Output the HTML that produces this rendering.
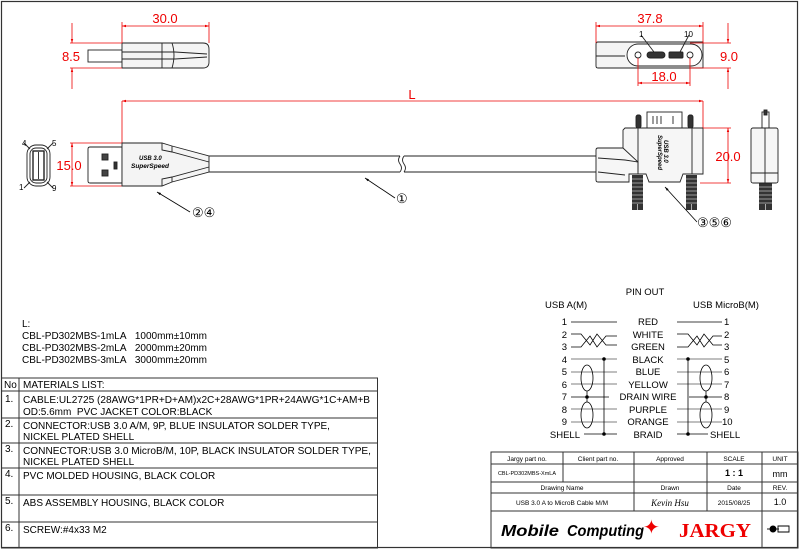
<!DOCTYPE html>
<html><head><meta charset="utf-8"><style>
html,body{margin:0;padding:0;background:#fff;}
svg{display:block;font-family:"Liberation Sans",sans-serif;}
</style></head><body>
<svg width="800" height="550" viewBox="0 0 800 550" xmlns="http://www.w3.org/2000/svg">
<defs>
<marker id="ar" viewBox="0 0 10 10" refX="10" refY="5" markerWidth="7" markerHeight="5" orient="auto-start-reverse"><path d="M0,2 L10,5 L0,8 z" fill="#e00"/></marker>
<marker id="ak" viewBox="0 0 10 10" refX="10" refY="5" markerWidth="8" markerHeight="5" orient="auto"><path d="M0,2 L10,5 L0,8 z" fill="#000"/></marker>
</defs>
<rect x="1.5" y="1.5" width="796" height="546" fill="none" stroke="#333" stroke-width="1.2"/>

<g stroke="#222" fill="none" stroke-width="0.9">
<rect x="88" y="50" width="34" height="12"/>
<path d="M122,43 H203 Q209,43 209,49 V62 Q209,68 203,68 H122 Z" fill="#f4f4f4"/>
<line x1="122" y1="52" x2="175" y2="52"/><line x1="122" y1="59" x2="175" y2="59"/>
<line x1="162" y1="43" x2="162" y2="68"/>
<path d="M172,43 Q176,55 172,68"/>
<path d="M175,52 L207,54 M175,59 L207,57"/>
</g>
<g stroke="#e00" stroke-width="0.8" fill="none">
<line x1="122" y1="26" x2="209" y2="26" marker-start="url(#ar)" marker-end="url(#ar)"/>
<line x1="122" y1="22" x2="122" y2="43"/><line x1="209" y1="22" x2="209" y2="43"/>
<line x1="70" y1="43" x2="122" y2="43"/><line x1="70" y1="68" x2="122" y2="68"/>
<line x1="72" y1="23" x2="72" y2="43" marker-end="url(#ar)"/>
<line x1="72" y1="89" x2="72" y2="68" marker-end="url(#ar)"/>
</g>
<text x="165" y="23" font-size="13" fill="#e00" text-anchor="middle">30.0</text>
<text x="71" y="61" font-size="13" fill="#e00" text-anchor="middle">8.5</text>

<g stroke="#e00" stroke-width="0.8" fill="none">
<line x1="122" y1="101" x2="703" y2="101" marker-start="url(#ar)" marker-end="url(#ar)"/>
<line x1="122" y1="101" x2="122" y2="143"/>
<line x1="703" y1="101" x2="703" y2="128"/>
<line x1="70" y1="143" x2="122" y2="143"/><line x1="70" y1="186" x2="122" y2="186"/>
<line x1="72" y1="143" x2="72" y2="186" marker-start="url(#ar)" marker-end="url(#ar)"/>
</g>
<text x="412" y="99" font-size="13" fill="#e00" text-anchor="middle">L</text>
<text x="69" y="170" font-size="13" fill="#e00" text-anchor="middle">15.0</text>

<g stroke="#222" fill="none" stroke-width="0.9">
<rect x="27" y="145" width="23" height="41" rx="9"/>
<rect x="30" y="148" width="17" height="35" rx="6"/>
<rect x="33" y="151" width="11" height="29" stroke-width="1.4"/>
<line x1="38.5" y1="152" x2="38.5" y2="179"/>
<line x1="24" y1="143" x2="30" y2="149"/><line x1="53" y1="143" x2="47" y2="149"/>
<line x1="24" y1="188" x2="30" y2="182"/><line x1="53" y1="188" x2="47" y2="182"/>
</g>
<text x="22" y="146" font-size="8">4</text><text x="52" y="146" font-size="8">5</text>
<text x="19" y="190" font-size="8">1</text><text x="52" y="191" font-size="8">9</text>

<g stroke="#222" fill="none" stroke-width="0.9">
<path d="M90,147 H122 V183 H90 Q88,183 88,181 V149 Q88,147 90,147 Z"/>
<rect x="102" y="154" width="6" height="6" fill="#444"/><rect x="102" y="170" width="6" height="6" fill="#444"/>
<rect x="114" y="162" width="3" height="7" fill="#333"/>
<path d="M122,143 H162 L172,146 L209,156 V172 L172,182 L162,186 H122 Z" fill="#f4f4f4"/>
<path d="M162,143 V150 L172,152 L209,162 M162,186 V179 L172,177 L209,167"/>
<line x1="172" y1="146" x2="172" y2="152"/><line x1="172" y1="177" x2="172" y2="182"/>
<path d="M209,156 H400 M209,172 H400" />
<path d="M400,156 Q397,160 400,164 Q403,168 400,172 M404,156 Q401,160 404,164 Q407,168 404,172"/>
<path d="M404,156 H596 M404,172 H596"/>
</g>
<text x="139" y="160" font-size="6" font-style="italic" font-weight="bold">USB 3.0</text>
<text x="131" y="168" font-size="6.5" font-style="italic" font-weight="bold">SuperSpeed</text>

<g stroke="#000" stroke-width="0.8" fill="none">
<line x1="190" y1="212" x2="157" y2="192" marker-end="url(#ak)"/>
<line x1="395" y1="198" x2="365" y2="178" marker-end="url(#ak)"/>
<line x1="697" y1="222" x2="665" y2="187" marker-end="url(#ak)"/>
</g>
<text x="192" y="217" font-size="13">②④</text>
<text x="396" y="203" font-size="13">①</text>
<text x="697" y="227" font-size="13">③⑤⑥</text>

<g stroke="#222" fill="none" stroke-width="0.9">
<path d="M598,42 H703 V68 H598 Q596,68 596,66 V44 Q596,42 598,42 Z" fill="#f4f4f4"/>
<line x1="596" y1="56" x2="625" y2="56"/>
<path d="M638,44 H691 A11,11 0 0 1 691,66 H638 A11,11 0 0 1 638,44 Z" fill="#fff"/>
<circle cx="638" cy="55" r="3"/><circle cx="690" cy="55" r="3"/>
<rect x="647" y="52" width="18" height="6" rx="3" fill="#333"/>
<rect x="669" y="52" width="14" height="6" rx="1" fill="#333"/>
<line x1="641" y1="35" x2="654" y2="52"/><line x1="689" y1="35" x2="680" y2="52"/>
</g>
<text x="639" y="37" font-size="8">1</text><text x="684" y="37" font-size="8">10</text>
<g stroke="#e00" stroke-width="0.8" fill="none">
<line x1="596" y1="26" x2="703" y2="26" marker-start="url(#ar)" marker-end="url(#ar)"/>
<line x1="596" y1="22" x2="596" y2="43"/><line x1="703" y1="22" x2="703" y2="43"/>
<line x1="690" y1="43" x2="731" y2="43"/><line x1="690" y1="68" x2="731" y2="68"/>
<line x1="728" y1="23" x2="728" y2="43" marker-end="url(#ar)"/>
<line x1="728" y1="89" x2="728" y2="68" marker-end="url(#ar)"/>
<line x1="638" y1="58" x2="638" y2="86"/><line x1="690" y1="58" x2="690" y2="86"/>
<line x1="638" y1="83" x2="690" y2="83" marker-start="url(#ar)" marker-end="url(#ar)"/>
</g>
<text x="650" y="23" font-size="13" fill="#e00" text-anchor="middle">37.8</text>
<text x="729" y="61" font-size="13" fill="#e00" text-anchor="middle">9.0</text>
<text x="664" y="81" font-size="13" fill="#e00" text-anchor="middle">18.0</text>

<g stroke="#222" fill="none" stroke-width="0.9">
<rect x="647" y="112" width="35" height="16"/>
<line x1="653" y1="116" x2="653" y2="124"/><line x1="657" y1="116" x2="657" y2="124"/><line x1="661" y1="116" x2="661" y2="124"/><line x1="673" y1="116" x2="673" y2="124"/>
<rect x="636" y="115" width="5" height="13" rx="2" fill="#333"/><rect x="688" y="115" width="5" height="13" rx="2" fill="#333"/>
<path d="M625,128 H703 V174 H683 L680,182 H649 L646,174 H629 L629,182 H598 Q596,182 596,180 V150 Q596,148 598,148 H623 L623,130 Z" fill="#f6f6f6"/>
<path d="M623,148 L638,162 V172 M598,158 L625,160 L638,162 M598,172 L625,175"/>
<line x1="638" y1="128" x2="638" y2="174"/><line x1="692" y1="128" x2="692" y2="174"/>
</g>
<g fill="#333">
<rect x="632" y="175" width="11" height="35"/><rect x="686" y="175" width="11" height="35"/>
<rect x="759" y="175" width="13" height="35"/>
</g>
<g stroke="#fff" stroke-width="0.6">
<path d="M632,179 H643 M632,183 H643 M632,187 H643 M632,191 H643 M632,195 H643 M632,199 H643 M632,203 H643 M637.5,204 V210"/>
<path d="M686,179 H697 M686,183 H697 M686,187 H697 M686,191 H697 M686,195 H697 M686,199 H697 M686,203 H697 M691.5,204 V210"/>
<path d="M759,179 H772 M759,183 H772 M759,187 H772 M759,191 H772 M759,195 H772 M759,199 H772 M759,203 H772 M765.5,204 V210"/>
</g>
<text transform="translate(664,140) rotate(90)" font-size="6" font-style="italic" font-weight="bold">USB 3.0</text>
<text transform="translate(658,135) rotate(90)" font-size="6" font-style="italic" font-weight="bold">SuperSpeed</text>
<g stroke="#222" fill="none" stroke-width="0.9">
<rect x="762" y="112" width="7" height="16" fill="#fff"/>
<rect x="764" y="110" width="3" height="5" fill="#333"/>
<rect x="751" y="128" width="27" height="55" rx="2" fill="#f6f6f6"/>
<line x1="765" y1="128" x2="765" y2="183"/>
<line x1="751" y1="173" x2="778" y2="173"/>
</g>
<g stroke="#e00" stroke-width="0.8" fill="none">
<line x1="703" y1="128" x2="731" y2="128"/><line x1="700" y1="183" x2="731" y2="183"/>
<line x1="728" y1="128" x2="728" y2="183" marker-start="url(#ar)" marker-end="url(#ar)"/>
</g>
<text x="728" y="161" font-size="13" fill="#e00" text-anchor="middle">20.0</text>

<g font-size="10">
<text x="22" y="327">L:</text>
<text x="22" y="339">CBL-PD302MBS-1mLA&#160;&#160;&#160;1000mm±10mm</text>
<text x="22" y="351">CBL-PD302MBS-2mLA&#160;&#160;&#160;2000mm±20mm</text>
<text x="22" y="363">CBL-PD302MBS-3mLA&#160;&#160;&#160;3000mm±20mm</text>
</g>

<g stroke="#333" stroke-width="1" fill="none">
<rect x="1.5" y="378" width="376" height="170"/>
<line x1="1.5" y1="391" x2="377.5" y2="391"/><line x1="1.5" y1="418" x2="377.5" y2="418"/>
<line x1="1.5" y1="443" x2="377.5" y2="443"/><line x1="1.5" y1="468" x2="377.5" y2="468"/>
<line x1="1.5" y1="495" x2="377.5" y2="495"/><line x1="1.5" y1="522" x2="377.5" y2="522"/>
<line x1="19" y1="378" x2="19" y2="548"/>
</g>
<g font-size="10">
<text x="4" y="388">No</text><text x="23" y="388">MATERIALS LIST:</text>
<text x="5" y="402">1.</text><text x="23" y="403" textLength="347" lengthAdjust="spacingAndGlyphs">CABLE:UL2725 (28AWG*1PR+D+AM)x2C+28AWG*1PR+24AWG*1C+AM+B</text>
<text x="23" y="415">OD:5.6mm&#160; PVC JACKET COLOR:BLACK</text>
<text x="5" y="427">2.</text><text x="23" y="429">CONNECTOR:USB 3.0 A/M, 9P, BLUE INSULATOR SOLDER TYPE,</text>
<text x="23" y="440">NICKEL PLATED SHELL</text>
<text x="5" y="452">3.</text><text x="23" y="454" textLength="348" lengthAdjust="spacingAndGlyphs">CONNECTOR:USB 3.0 MicroB/M, 10P, BLACK INSULATOR SOLDER TYPE,</text>
<text x="23" y="465">NICKEL PLATED SHELL</text>
<text x="5" y="477">4.</text><text x="23" y="479">PVC MOLDED HOUSING, BLACK COLOR</text>
<text x="5" y="504">5.</text><text x="23" y="506">ABS ASSEMBLY HOUSING, BLACK COLOR</text>
<text x="5" y="531">6.</text><text x="23" y="533">SCREW:#4x33 M2</text>
</g>

<g font-size="9.5">
<text x="645" y="295" text-anchor="middle">PIN OUT</text>
<text x="545" y="308">USB A(M)</text>
<text x="693" y="308">USB MicroB(M)</text>
</g>
<g font-size="9.5" text-anchor="end">
<text x="567" y="325">1</text><text x="567" y="338">2</text><text x="567" y="350">3</text><text x="567" y="363">4</text><text x="567" y="375">5</text><text x="567" y="388">6</text><text x="567" y="400">7</text><text x="567" y="413">8</text><text x="567" y="425">9</text><text x="580" y="438">SHELL</text>
</g>
<g font-size="9.5" text-anchor="middle">
<text x="648" y="325">RED</text><text x="648" y="338">WHITE</text><text x="648" y="350">GREEN</text><text x="648" y="363">BLACK</text><text x="648" y="375">BLUE</text><text x="648" y="388">YELLOW</text><text x="648" y="400">DRAIN WIRE</text><text x="648" y="413">PURPLE</text><text x="648" y="425">ORANGE</text><text x="648" y="438">BRAID</text>
</g>
<g font-size="9.5">
<text x="724" y="325">1</text><text x="724" y="338">2</text><text x="724" y="350">3</text><text x="724" y="363">5</text><text x="724" y="375">6</text><text x="724" y="388">7</text><text x="724" y="400">8</text><text x="724" y="413">9</text><text x="722" y="425">10</text><text x="710" y="438">SHELL</text>
</g>
<g stroke="#000" stroke-width="0.8" fill="none">
<line x1="571" y1="322" x2="617" y2="322"/><line x1="677" y1="322" x2="722" y2="322"/>
<path d="M571,334 H581 L590,345 L597,334 L606,345 H617 M571,347 H581 L590,336 L597,347 L606,336 H617"/>
<path d="M677,334 H688 L697,345 L704,334 L713,345 H722 M677,347 H688 L697,336 L704,347 L713,336 H722"/>
<g stroke="#555">
<line x1="571" y1="359" x2="617" y2="359"/><line x1="571" y1="372" x2="617" y2="372"/><line x1="571" y1="384" x2="617" y2="384"/>
<line x1="571" y1="409" x2="617" y2="409"/><line x1="571" y1="422" x2="617" y2="422"/>
<line x1="677" y1="359" x2="722" y2="359"/><line x1="677" y1="372" x2="722" y2="372"/><line x1="677" y1="384" x2="722" y2="384"/>
<line x1="677" y1="409" x2="722" y2="409"/><line x1="677" y1="422" x2="722" y2="422"/>
</g>
<line x1="571" y1="397" x2="609" y2="397"/><line x1="689" y1="397" x2="722" y2="397"/>
<line x1="584" y1="434" x2="617" y2="434"/><line x1="677" y1="434" x2="708" y2="434"/>
<line x1="604" y1="359" x2="604" y2="434"/><line x1="688" y1="359" x2="688" y2="434"/>
<ellipse cx="587" cy="378" rx="6" ry="13"/><ellipse cx="587" cy="415" rx="6" ry="13"/>
<ellipse cx="706" cy="378" rx="6" ry="13"/><ellipse cx="706" cy="415" rx="6" ry="13"/>
<line x1="587" y1="391" x2="587" y2="402"/><line x1="706" y1="391" x2="706" y2="402"/>
</g>
<g fill="#000">
<circle cx="604" cy="359" r="1.8"/><circle cx="604" cy="434" r="1.8"/><circle cx="688" cy="359" r="1.8"/><circle cx="688" cy="434" r="1.8"/>
<circle cx="587" cy="397" r="1.8"/><circle cx="706" cy="397" r="1.8"/>
</g>

<g stroke="#333" stroke-width="1" fill="none">
<rect x="491" y="452" width="307" height="96"/>
<line x1="491" y1="464" x2="798" y2="464"/><line x1="491" y1="482" x2="798" y2="482"/>
<line x1="491" y1="493" x2="798" y2="493"/><line x1="491" y1="511" x2="798" y2="511"/>
<line x1="563" y1="452" x2="563" y2="482"/>
<line x1="634" y1="452" x2="634" y2="511"/><line x1="707" y1="452" x2="707" y2="511"/>
<line x1="762" y1="452" x2="762" y2="548"/>
</g>
<g font-size="6.5" text-anchor="middle">
<text x="527" y="461">Jargy part no.</text><text x="598" y="461">Client part no.</text><text x="670" y="461">Approved</text><text x="734" y="461">SCALE</text><text x="780" y="461">UNIT</text>
<text x="527" y="475" font-size="5.5">CBL-PD302MBS-XmLA</text>
<text x="562" y="490">Drawing Name</text><text x="670" y="490">Drawn</text><text x="734" y="490">Date</text><text x="780" y="490">REV.</text>
<text x="562" y="505">USB 3.0 A to MicroB Cable M/M</text><text x="734" y="505">2015/08/25</text>
</g>
<text x="734" y="476" font-size="9" font-weight="bold" text-anchor="middle">1 : 1</text>
<text x="780" y="477" font-size="9" text-anchor="middle">mm</text>
<text x="780" y="505" font-size="9" text-anchor="middle">1.0</text>
<text x="670" y="506" font-size="9" font-style="italic" font-family="Liberation Serif,serif" text-anchor="middle">Kevin Hsu</text>
<text x="501" y="536" font-size="16" font-weight="bold" font-style="italic" textLength="58" lengthAdjust="spacingAndGlyphs">Mobile</text>
<text x="567" y="536" font-size="16" font-weight="bold" font-style="italic" textLength="77" lengthAdjust="spacingAndGlyphs">Computing</text>
<text x="643" y="534" font-size="20" fill="#e00">✦</text>
<text x="679" y="537" font-size="20" font-weight="bold" fill="#e00" font-family="Liberation Serif,serif" textLength="72" lengthAdjust="spacingAndGlyphs">JARGY</text>
<g stroke="#000" stroke-width="0.9" fill="none">
<circle cx="773" cy="529" r="3" fill="#000"/><line x1="767" y1="529" x2="779" y2="529"/>
<path d="M778,526 H789 V532 H778 Z"/>
</g>
</svg>
</body></html>
